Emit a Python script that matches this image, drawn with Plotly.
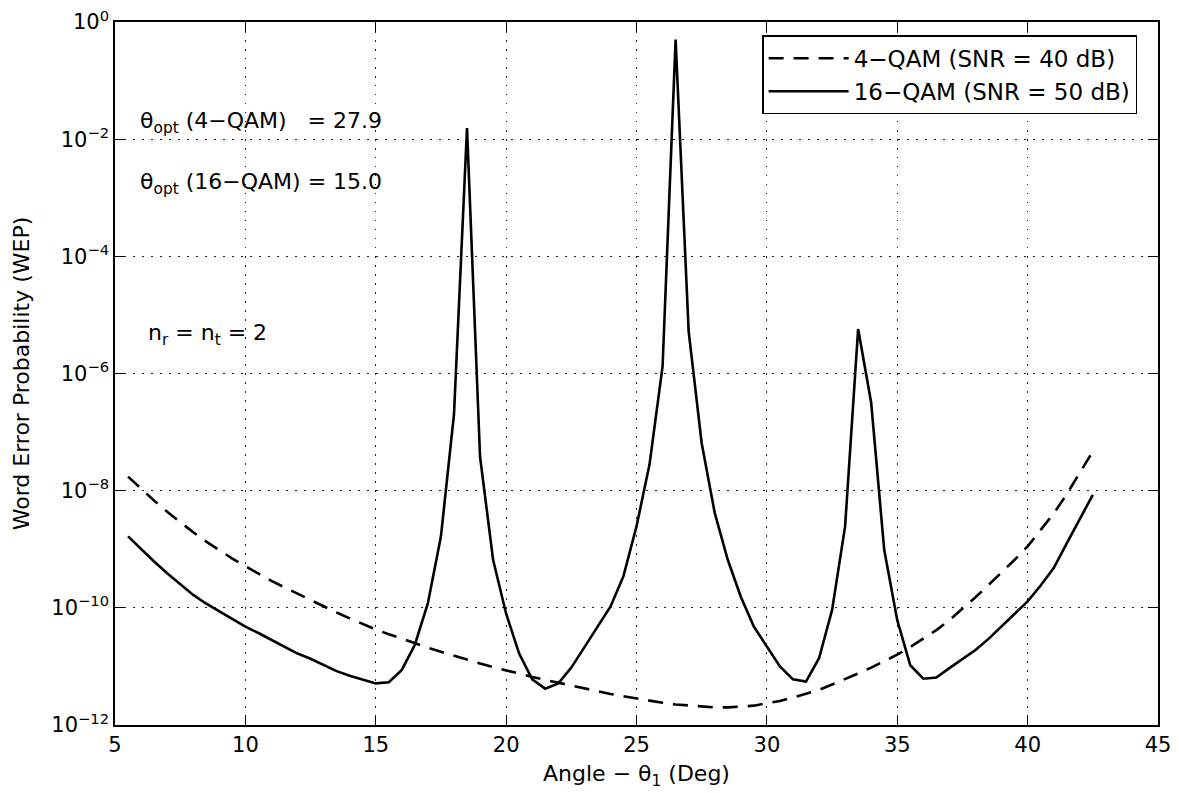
import numpy as np
import plotly.graph_objects as go

# Angle theta_1 (deg), sampled every 0.5 deg from 5.5 to 42.5
angle = [5.5 + 0.5 * i for i in range(75)]

# log10(WEP)
log_wep_16qam = [
    -8.78, -9.00, -9.21, -9.41, -9.60, -9.78, -9.93, -10.06, -10.19, -10.32,   # 5.5 .. 10.0
    -10.43, -10.55, -10.66, -10.78, -10.87, -10.97, -11.08, -11.16, -11.23, -11.29,  # 10.5 .. 15.0
    -11.27, -11.06, -10.63, -9.92, -8.78, -6.70, -1.81, -7.42, -9.18, -10.10,  # 15.5 .. 20.0
    -10.78, -11.22, -11.38, -11.29, -11.02, -10.68, -10.32, -9.98, -9.46, -8.61,  # 20.5 .. 25.0
    -7.55, -5.88, -0.30, -5.28, -7.19, -8.38, -9.18, -9.81, -10.32, -10.66,  # 25.5 .. 30.0
    -11.00, -11.22, -11.26, -10.86, -10.04, -8.61, -5.24, -6.50, -9.01, -10.21,  # 30.5 .. 35.0
    -10.98, -11.21, -11.19, -11.03, -10.88, -10.72, -10.53, -10.32, -10.11, -9.89,  # 35.5 .. 40.0
    -9.62, -9.32, -8.90, -8.48, -8.07,  # 40.5 .. 42.5
]

log_wep_4qam = [
    -7.76, -7.97, -8.17, -8.36, -8.54, -8.71, -8.87, -9.02, -9.16, -9.29,   # 5.5 .. 10.0
    -9.42, -9.54, -9.65, -9.76, -9.87, -9.98, -10.08, -10.18, -10.28, -10.37,  # 10.5 .. 15.0
    -10.45, -10.53, -10.61, -10.68, -10.75, -10.82, -10.89, -10.95, -11.01, -11.07,  # 15.5 .. 20.0
    -11.13, -11.18, -11.23, -11.28, -11.33, -11.38, -11.42, -11.47, -11.51, -11.55,  # 20.5 .. 25.0
    -11.59, -11.62, -11.65, -11.67, -11.69, -11.70, -11.70, -11.69, -11.67, -11.63,  # 25.5 .. 30.0
    -11.59, -11.53, -11.47, -11.40, -11.31, -11.22, -11.12, -11.02, -10.91, -10.80,  # 30.5 .. 35.0
    -10.67, -10.53, -10.38, -10.21, -10.02, -9.82, -9.61, -9.40, -9.18, -8.95,  # 35.5 .. 40.0
    -8.68, -8.39, -8.06, -7.70, -7.33,  # 40.5 .. 42.5
]

wep_16qam = [10 ** v for v in log_wep_16qam]
wep_4qam = [10 ** v for v in log_wep_4qam]

x_ticks = [5, 10, 15, 20, 25, 30, 35, 40, 45]
y_tick_exps = [-12, -10, -8, -6, -4, -2, 0]
y_tick_vals = [10.0 ** e for e in y_tick_exps]
y_tick_text = ["10<sup>%s</sup>" % (("\u2212%d" % -e) if e < 0 else "0") for e in y_tick_exps]

series_names = ["4\u2212QAM (SNR = 40 dB)", "16\u2212QAM (SNR = 50 dB)"]

FONT = "DejaVu Sans"

fig = go.Figure()
fig.add_trace(go.Scatter(
    x=angle, y=wep_4qam, mode="lines", name=series_names[0],
    line=dict(color="black", width=2.6, dash="15px,10px"),
))
fig.add_trace(go.Scatter(
    x=angle, y=wep_16qam, mode="lines", name=series_names[1],
    line=dict(color="black", width=2.6),
))

axis_common = dict(
    showline=True, linecolor="black", linewidth=1.5, mirror="allticks",
    ticks="inside", ticklen=10, tickwidth=1.2, tickcolor="black",
    showgrid=True, gridcolor="#222222", griddash="1.5px,7.5px", gridwidth=1,
    zeroline=False, automargin=False, ticklabeloverflow="allow",
    tickfont=dict(family=FONT, size=21, color="black"),
)

fig.update_xaxes(
    range=[5, 45], tickvals=x_ticks,
    title=dict(text="Angle \u2212 \u03b8<sub>1</sub> (Deg)",
               font=dict(family=FONT, size=22, color="black"), standoff=10),
    **axis_common,
)
fig.update_yaxes(
    type="log", range=[-12, 0], tickvals=y_tick_vals, ticktext=y_tick_text,
    title=dict(text="Word Error Probability (WEP)",
               font=dict(family=FONT, size=22, color="black"), standoff=16),
    **axis_common,
)

ann_font = dict(family=FONT, size=22, color="black")
fig.add_annotation(x=0.022, y=-1.72, xref="paper", yref="y", xanchor="left", yanchor="middle",
                   text="\u03b8<sub>opt</sub> (4\u2212QAM)   = 27.9", showarrow=False, font=ann_font)
fig.add_annotation(x=0.022, y=-2.76, xref="paper", yref="y", xanchor="left", yanchor="middle",
                   text="\u03b8<sub>opt</sub> (16\u2212QAM) = 15.0", showarrow=False, font=ann_font)
fig.add_annotation(x=0.03, y=-5.34, xref="paper", yref="y", xanchor="left", yanchor="middle",
                   text="n<sub>r</sub> = n<sub>t</sub> = 2", showarrow=False, font=ann_font)

fig.update_layout(
    width=1179, height=793,
    margin=dict(l=115, r=21, t=22, b=68),
    paper_bgcolor="white", plot_bgcolor="white",
    font=dict(family=FONT, size=21, color="black"),
    showlegend=True,
    legend=dict(
        x=0.98, y=0.981, xanchor="right", yanchor="top",
        bgcolor="white", bordercolor="black", borderwidth=1.5,
        font=dict(family=FONT, size=23, color="black"),
        tracegroupgap=0, itemwidth=80,
    ),
)

# remove the page's default 8px body margin so the figure sits at the window origin
fig.write_html(
    "out.html",
    config={"displayModeBar": False},
    post_script="document.body.style.margin='0';",
)
